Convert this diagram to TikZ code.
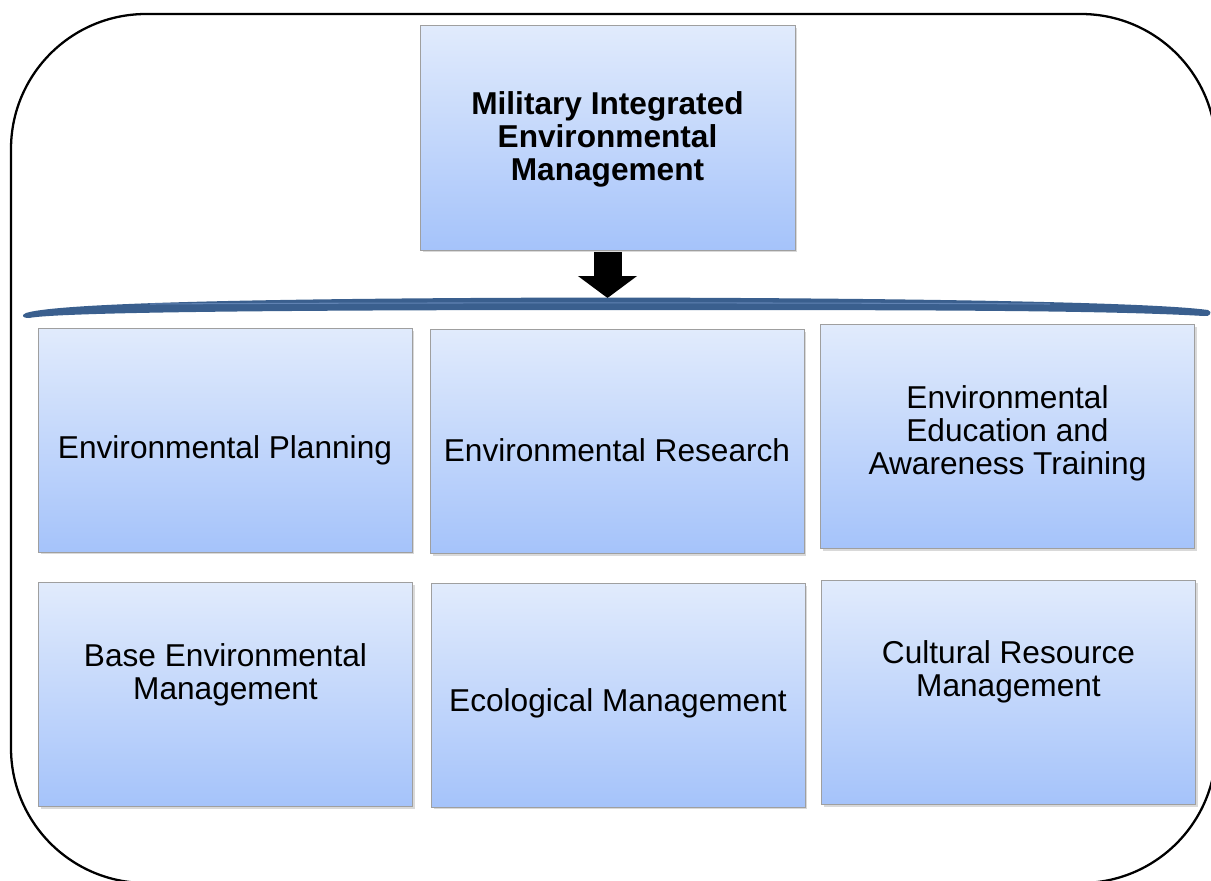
\documentclass[tikz,border=0pt]{standalone}
\usepackage{fontspec}
\setmainfont{Liberation Sans}
\usepackage{tikz}
\usetikzlibrary{shadows}
\usetikzlibrary{arrows.meta}
\definecolor{boxtop}{RGB}{225,235,252}
\definecolor{boxbot}{RGB}{165,195,250}
\definecolor{bracecol}{RGB}{58,95,142}
\definecolor{bracehi}{RGB}{96,130,178}

\begin{document}
\begin{tikzpicture}[x=0.02cm,y=-0.02cm,
    box/.style={draw=gray!75, top color=boxtop, bottom color=boxbot,
      minimum width=7.48cm, minimum height=4.48cm, inner sep=0pt,
      drop shadow={shadow xshift=0.05cm, shadow yshift=-0.05cm, opacity=0.3}},
    txt/.style={align=center, font=\fontsize{18}{18.8}\selectfont},
    blockarrow/.style={line width=0.56cm, -{Triangle[length=0.44cm, width=1.16cm]}}]
  \useasboundingbox (0,0) rectangle (1211,880);

  % frame
  \begin{scope}
    \clip (0,0) rectangle (1211,880);
    \draw[line width=1.3pt, rounded corners=2.7cm] (11,14) rectangle (1216,883);
  \end{scope}

  % top box
  \node[box, minimum width=7.5cm, minimum height=4.5cm] (mil) at (607.5,137.5) {};
  \node[txt, font=\fontsize{18}{18.8}\selectfont\bfseries] (mil-t) at (607.5,139)
    {Military Integrated\\Environmental\\Management};

  % arrow
  \coordinate (tip) at (607.5,298);
  \draw[blockarrow] ([yshift=-0.04cm]mil.south) -- (tip);

  % brace
  \fill[bracecol] (26,313) .. controls (60,302) and (300,298) .. (607,297.5)
    .. controls (900,298) and (1150,302) .. (1208,310)
    .. controls (1213,312) and (1210,317) .. (1204,316)
    .. controls (1100,310) and (900,310) .. (607,310)
    .. controls (300,310) and (60,312) .. (29,318)
    .. controls (22,318) and (21,315) .. (26,313) -- cycle;
  \draw[bracehi, line width=0.6pt] (150,304) .. controls (400,302.5) and (800,302.5) .. (1050,304);

  % first row
  \node[box] (plan) at (225,440) {};
  \node[txt] (plan-t) at (225,450) {Environmental Planning};
  \node[box] (research) at (617,441.5) {};
  \node[txt] (research-t) at (617,450) {Environmental Research};
  \node[box] (edu) at (1007.5,436.5) {};
  \node[txt] (edu-t) at (1007.5,433) {Environmental\\Education and\\Awareness Training};

  % second row
  \node[box] (base) at (225.5,694.5) {};
  \node[txt] (base-t) at (225.5,674.5) {Base Environmental\\Management};
  \node[box] (eco) at (618,695) {};
  \node[txt] (eco-t) at (618,703) {Ecological Management};
  \node[box] (cult) at (1008.5,692.5) {};
  \node[txt] (cult-t) at (1008.5,671.5) {Cultural Resource\\Management};
\end{tikzpicture}
\end{document}
